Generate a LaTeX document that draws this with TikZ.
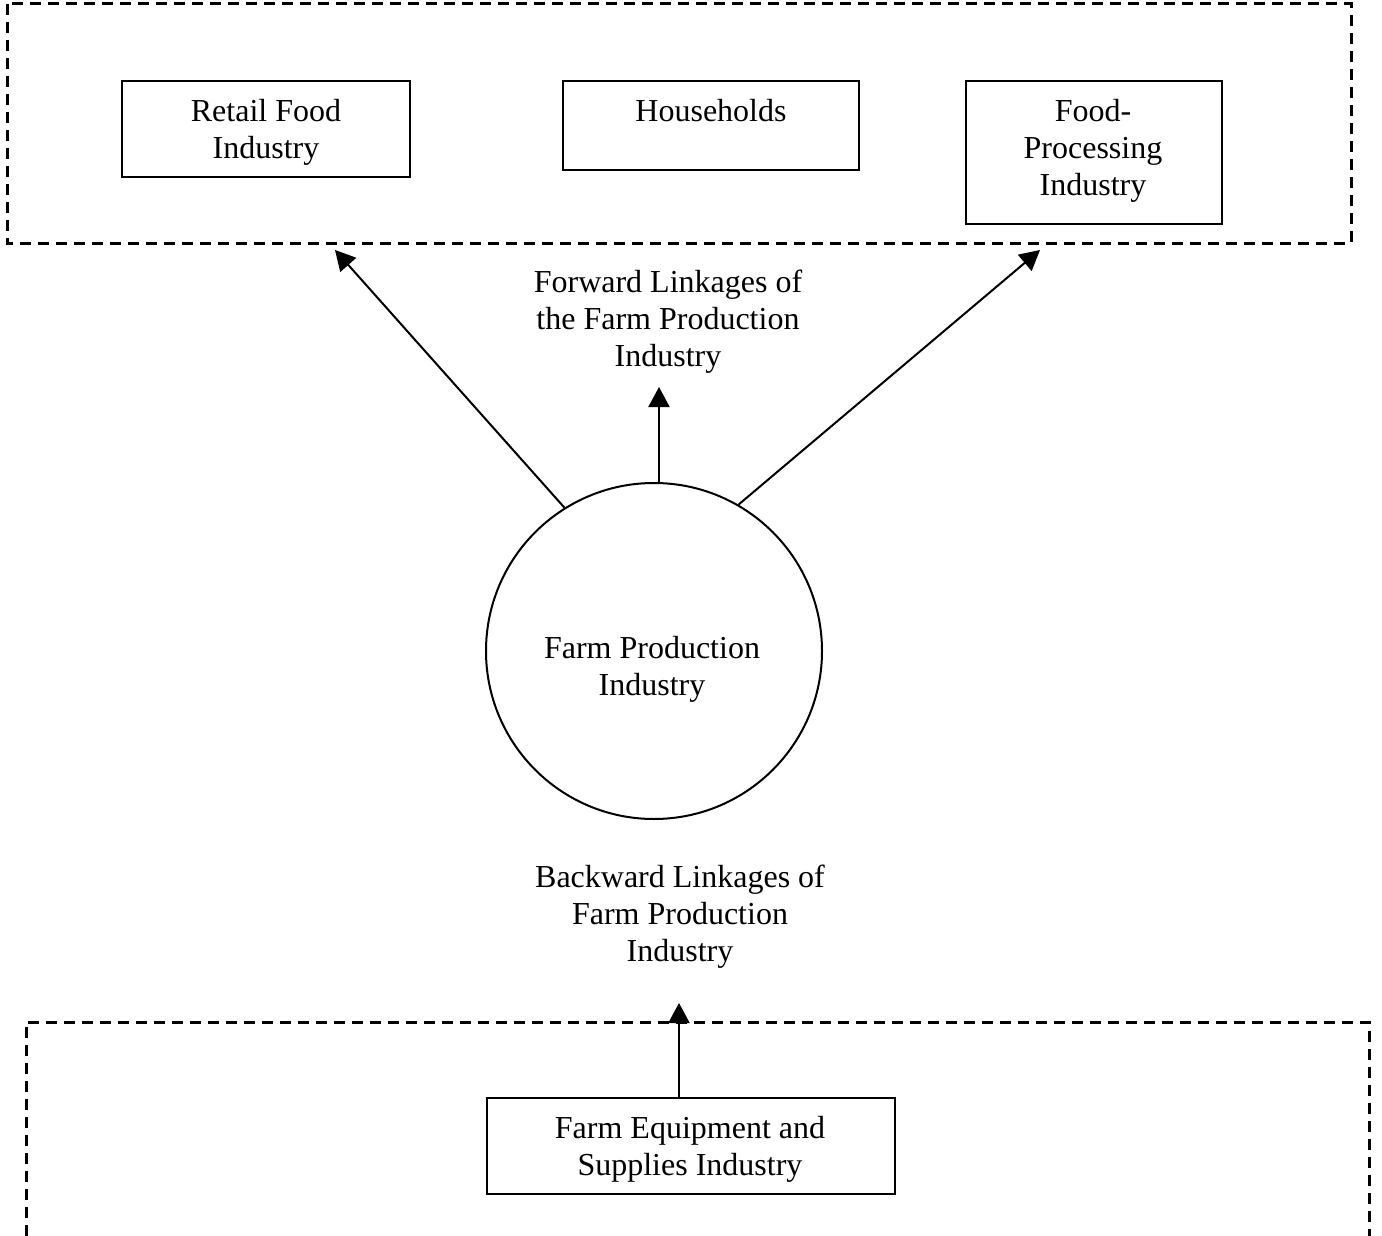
\documentclass[tikz,border=0pt]{standalone}
\usepackage{fontspec}
\setmainfont{Liberation Serif}
\usetikzlibrary{arrows.meta}
\begin{document}
\begin{tikzpicture}[x=1pt,y=-1pt,
  every node/.style={font=\fontsize{32}{37}\selectfont},
  boxed/.style={draw,line width=2pt,inner sep=0pt,minimum width=#1},
  txt/.style={align=center,inner sep=0pt},
  region/.style={line width=3pt,dash pattern=on 11pt off 7pt},
  link/.style={line width=2pt,-{Triangle[length=20pt,width=21pt]}}]
\useasboundingbox (0,0) rectangle (1382,1236);
% dashed regions
\draw[region] (7,4) rectangle (1351,243);
\draw[region] (26,1236) -- (26,1022) -- (1369,1022) -- (1369,1236);
% boxes
\node[boxed=288pt,minimum height=96pt] (retail) at (266,129) {};
\node[boxed=296pt,minimum height=89pt] (house) at (711,125.5) {};
\node[boxed=256pt,minimum height=143pt] (proc) at (1094,152.5) {};
\node[boxed=408pt,minimum height=96pt] (equip) at (691,1146) {};
\node[txt] (retailt) at (266,132.5) {Retail Food\\Industry};
\node[txt] (houset) at (711,111) {Households};
\node[txt] (proct) at (1093,151) {Food-\\Processing\\Industry};
\node[txt] (equipt) at (690,1149.5) {Farm Equipment and\\Supplies Industry};
% circle
\node[draw,circle,line width=2pt,minimum size=336pt,inner sep=0pt] (farm) at (654,651) {};
\node[txt] (farmt) at (652,669.5) {Farm Production\\Industry};
% labels
\node[txt] (fwd) at (668,322) {Forward Linkages of\\the Farm Production\\Industry};
\node[txt] (bwd) at (680,916.5) {Backward Linkages of\\Farm Production\\Industry};
% arrow ends
\coordinate (tl) at (335,250);
\coordinate (tm) at (659,387);
\coordinate (tr) at (1040,250);
\coordinate (tb) at (679,1003);
\coordinate (sm) at (659,483);
\coordinate (sb) at (679,1098);
\draw[link] (farm.122) -- (tl);
\draw[link] (sm) -- (tm);
\draw[link] (farm.60) -- (tr);
\draw[link] (sb) -- (tb);
\end{tikzpicture}
\end{document}
